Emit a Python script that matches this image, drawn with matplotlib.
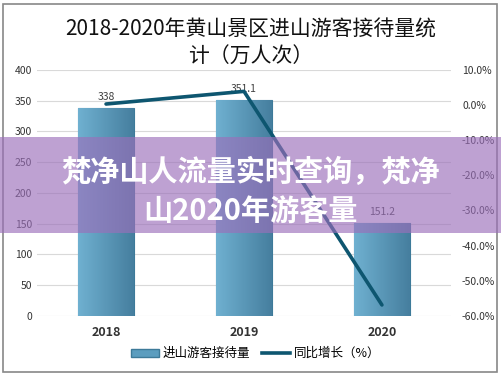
import matplotlib.pyplot as plt
import numpy as np
from matplotlib.patches import Rectangle, Patch
from matplotlib.lines import Line2D
from matplotlib.ticker import FuncFormatter

plt.rcParams['font.family'] = ['Noto Sans CJK SC', 'DejaVu Sans']

years = ['2018', '2019', '2020']
visitors = [338, 351.1, 151.2]
growth = [0.3, 3.9, -56.9]
visitor_labels = ['338', '351.1', '151.2']

title = '2018-2020年黄山景区进山游客接待量统\n计（万人次）'
banner_lines = ['梵净山人流量实时查询，梵净', '山2020年游客量']

fig = plt.figure(figsize=(5.01, 3.76), dpi=100)
ax = fig.add_axes([0.074, 0.16, 0.826, 0.654])
ax2 = ax.twinx()

x = np.arange(len(years))
bars = ax.bar(x, visitors, width=0.4, color='#5b9dbf', edgecolor='#3d7a99',
              linewidth=0.8, zorder=2)

# light-to-dark gradient inside each bar
grad = np.linspace(0, 1, 50).reshape(1, -1)
cmap = plt.matplotlib.colors.LinearSegmentedColormap.from_list('b', ['#6fb0d0', '#467f9f'])
for b in bars:
    im = ax.imshow(grad, extent=[b.get_x(), b.get_x() + b.get_width(), 0, b.get_height()],
                   aspect='auto', cmap=cmap, zorder=2.5)
    im.set_clip_path(b)
for b, lab in zip(bars, visitor_labels):
    ax.text(b.get_x() + b.get_width() / 2, b.get_height() + 10, lab, ha='center',
            va='bottom', fontsize=7.5, color='#404040', zorder=4)

ax.set_xlim(-0.5, 2.5)
ax.set_ylim(0, 400)
ax.set_yticks(range(0, 401, 50))
ax.set_xticks(x)
ax.set_xticklabels(years, fontsize=9, fontweight='bold', color='#333333')
ax.tick_params(axis='y', length=0, labelsize=7.5, colors='#333333')
ax.tick_params(axis='x', length=0, pad=7)
ax.grid(axis='y', color='#d9d9d9', linewidth=0.8, zorder=0)
ax.set_axisbelow(True)
for s in ax.spines.values():
    s.set_visible(False)

ax2.plot(x, growth, color='#0e5670', linewidth=2.6, solid_capstyle='round', zorder=5)
ax2.set_ylim(-60, 10)
ax2.set_yticks(range(-60, 11, 10))
ax2.yaxis.set_major_formatter(FuncFormatter(lambda v, p: f'{v:.1f}%'))
ax2.tick_params(axis='y', length=0, labelsize=7.5, colors='#333333', pad=8)
for s in ax2.spines.values():
    s.set_visible(False)

fig.text(0.5, 0.885, title, ha='center', va='center', fontsize=15, color='#111111',
         fontweight='medium', linespacing=1.3)

handles = [Patch(facecolor='#5b9dbf', edgecolor='#3d7a99'),
           Line2D([0], [0], color='#0e5670', linewidth=2.6)]
fig.legend(handles, ['进山游客接待量', '同比增长（%）'], loc='center', ncol=2,
           bbox_to_anchor=(0.51, 0.06), frameon=False, fontsize=9, handlelength=2.2,
           handleheight=0.6, columnspacing=1.0, handletextpad=0.3)

# outer frame
fig.patches.append(Rectangle((0.006, 0.011), 0.986, 0.979, transform=fig.transFigure,
                             fill=False, edgecolor='#888888', linewidth=1.2))

# overlay banner
fig.patches.append(Rectangle((0, 1 - 233 / 376), 1, 96 / 376, transform=fig.transFigure,
                             facecolor='#9b6fba', alpha=0.65, edgecolor='none', zorder=10))
for yy, line in zip([172, 212], banner_lines):
    fig.text(0.5, 1 - yy / 376, line, ha='center', va='center', fontsize=21,
             fontweight='heavy', color='white', zorder=11)

fig.savefig('out.png', dpi=100)
